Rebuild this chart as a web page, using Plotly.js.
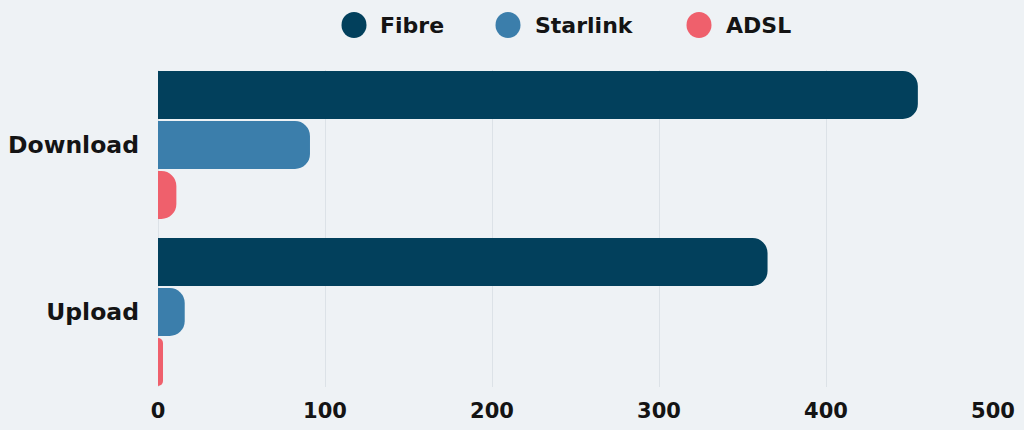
<!DOCTYPE html>
<html>
<head>
<meta charset="utf-8">
<script src="https://cdn.plot.ly/plotly-3.0.1.min.js"></script>
<style>
html,body{margin:0;padding:0;background:#eef2f5;}
#chart{width:1024px;height:430px;}
</style>
</head>
<body>
<div id="chart"></div>
<script>
const categories = ['Download', 'Upload'];
const seriesNames = ['Fibre', 'Starlink', 'ADSL'];
const fibre = [455, 365];
const starlink = [91, 16];
const adsl = [11, 3];
const xTicks = [0, 100, 200, 300, 400, 500];

const colors = ['#02405c', '#3b7eab', '#ef606c'];
const values = [fibre, starlink, adsl];
const FONT = '"DejaVu Sans", sans-serif';

const W = 1024, H = 430;
const M = {l: 158, r: 31, t: 70, b: 43};
const pw = W - M.l - M.r, ph = H - M.t - M.b;
const px2x = p => (p - M.l) / pw;
const py2y = p => (H - M.b - p) / ph;

const traces = values.map((v, i) => ({
  type: 'bar',
  orientation: 'h',
  name: seriesNames[i],
  y: categories,
  x: v,
  marker: {color: colors[i], cornerradius: 15, line: {width: 0}},
  showlegend: false,
  hoverinfo: 'x+name'
}));

// custom legend (circle markers + text)
const legendCircleX = [354, 508, 699];
const legendTextX = [378, 533, 724];
const legendY = 25;
const shapes = seriesNames.map((n, i) => ({
  type: 'circle', xref: 'paper', yref: 'paper',
  xsizemode: 'pixel', ysizemode: 'pixel',
  xanchor: px2x(legendCircleX[i]), yanchor: py2y(legendY),
  x0: -12.5, x1: 12.5, y0: -13, y1: 13,
  fillcolor: colors[i], line: {width: 0}
}));
const annotations = seriesNames.map((n, i) => ({
  text: n, xref: 'paper', yref: 'paper',
  x: px2x(legendTextX[i]), y: py2y(legendY),
  xanchor: 'left', yanchor: 'middle', showarrow: false,
  font: {family: FONT, size: 22, color: '#141414', weight: 700}
}));

const layout = {
  width: W, height: H,
  paper_bgcolor: '#eef2f5', plot_bgcolor: '#eef2f5',
  margin: M,
  barmode: 'group',
  bargap: 0.102,
  bargroupgap: 0.04,
  showlegend: false,
  xaxis: {
    range: [0, 500],
    tickvals: xTicks,
    ticktext: xTicks.map(String),
    showgrid: true, gridcolor: '#dce2e7', gridwidth: 1,
    zeroline: true, zerolinecolor: '#dce2e7', zerolinewidth: 1,
    showline: false, ticks: '',
    ticklabelstandoff: 9,
    tickfont: {family: FONT, size: 21, color: '#141414', weight: 700}
  },
  yaxis: {
    type: 'category',
    range: [1.449, -0.449],
    showgrid: false, zeroline: false, showline: false, ticks: '',
    ticklabelstandoff: 18,
    tickfont: {family: FONT, size: 23.5, color: '#141414', weight: 700}
  },
  shapes: shapes,
  annotations: annotations,
  font: {family: FONT}
};

Plotly.newPlot('chart', traces, layout, {displayModeBar: false, staticPlot: true});
</script>
</body>
</html>
